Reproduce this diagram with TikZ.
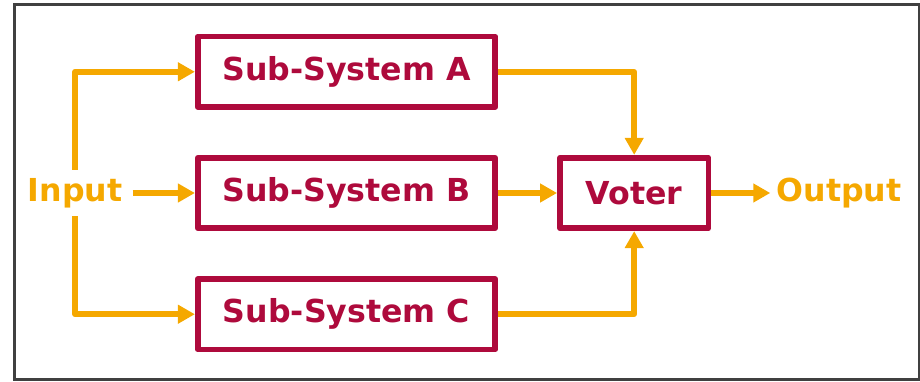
\documentclass[tikz,border=0pt]{standalone}
\usepackage{fontspec}
\setmainfont{DejaVu Sans}
\usepackage{xcolor}
\usetikzlibrary{positioning,arrows.meta}
\definecolor{sysred}{HTML}{AE0A3C}
\definecolor{floworange}{HTML}{F5A800}
\definecolor{framegray}{HTML}{404040}

\begin{document}
\begin{tikzpicture}[x=0.02cm, y=0.02cm,
    sysbox/.style={rectangle, draw=sysred, line width=0.115cm, line join=round, fill=white, text=sysred, minimum width=5.95cm, minimum height=1.41cm, align=center, font=\fontsize{18}{21}\selectfont\bfseries},
    voterbox/.style={sysbox, minimum width=2.97cm},
    iolabel/.style={text=floworange, font=\fontsize{18}{21}\selectfont\bfseries, inner xsep=0.2cm, inner ysep=0.16cm},
    flow/.style={-{Triangle[length=0.34cm,width=0.36cm]}, draw=floworange, line width=0.115cm, line join=round},
    node distance=0.9cm
]
\useasboundingbox (0,0) rectangle (920,382);
\draw[framegray, line width=0.06cm] (14.4,377.5) rectangle (919.5,2);

\node[sysbox] (sysB) at (346.5,189) {Sub-System B};
\node[sysbox, above=of sysB] (sysA) {Sub-System A};
\node[sysbox, below=of sysB] (sysC) {Sub-System C};
\node[voterbox, right=1.18cm of sysB] (voter) {Voter};
\node[iolabel] (in) at (75,189) {Input};
\node[iolabel, inner xsep=0.12cm, right=1.18cm of voter] (out) {Output};

\draw[flow] (in.north) |- (sysA.west);
\draw[flow] (in.east) -- (sysB.west);
\draw[flow] (in.south) |- (sysC.west);
\draw[flow] (sysA.east) -| (voter.north);
\draw[flow] (sysB.east) -- (voter.west);
\draw[flow] (sysC.east) -| (voter.south);
\draw[flow] (voter.east) -- (out.west);

\end{tikzpicture}
\end{document}
